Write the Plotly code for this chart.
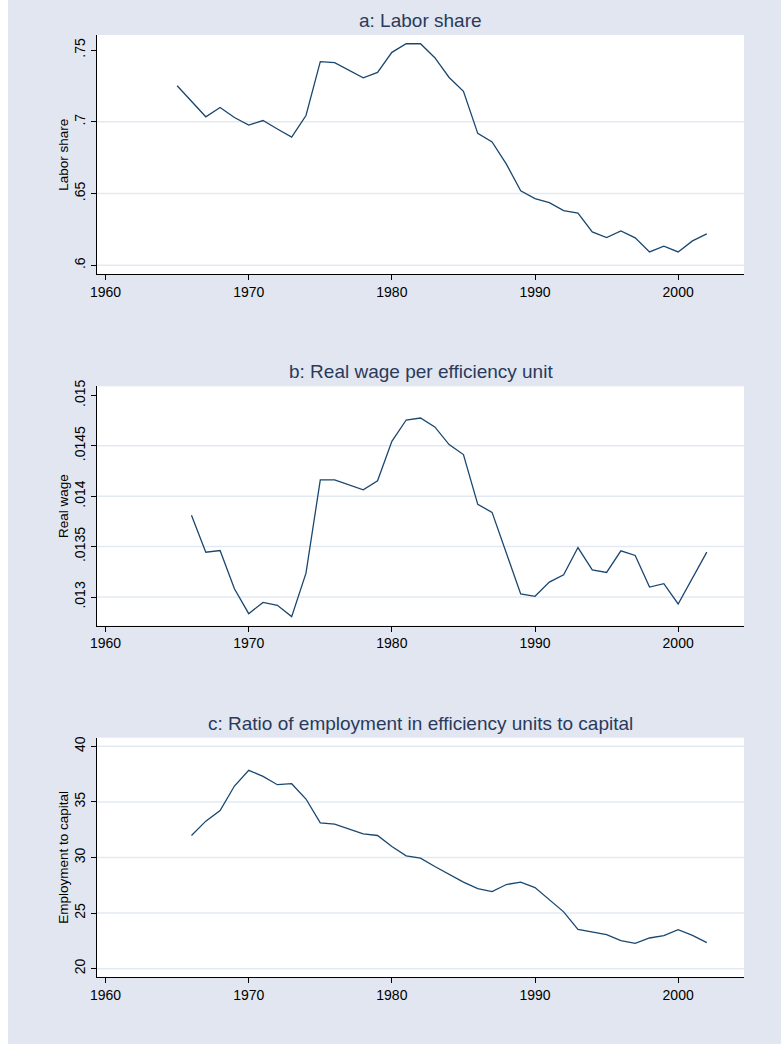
import plotly.graph_objects as go
from plotly.subplots import make_subplots

# ---------------------------------------------------------------
# Data
# ---------------------------------------------------------------
YEARS_A = list(range(1965, 2003))
LABOR_SHARE = [
    0.7251, 0.7140, 0.7035, 0.7100, 0.7030, 0.6977, 0.7009, 0.6950,
    0.6893, 0.7044, 0.7419, 0.7412, 0.7361, 0.7307, 0.7344, 0.7484,
    0.7544, 0.7544, 0.7447, 0.7309, 0.7212, 0.6919, 0.6860, 0.6705,
    0.6519, 0.6465, 0.6437, 0.6381, 0.6363, 0.6233, 0.6193, 0.6240,
    0.6191, 0.6093, 0.6133, 0.6093, 0.6170, 0.6219,
]

YEARS_B = list(range(1966, 2003))
REAL_WAGE = [
    0.013811, 0.013445, 0.013461, 0.013082, 0.012835, 0.012947, 0.012918,
    0.012806, 0.013237, 0.014163, 0.014163, 0.014114, 0.014064, 0.014153,
    0.014545, 0.014756, 0.014776, 0.014687, 0.014512, 0.014413, 0.013919,
    0.013840, 0.013435, 0.013030, 0.013007, 0.013148, 0.013221, 0.013491,
    0.013270, 0.013244, 0.013458, 0.013412, 0.013099, 0.013132, 0.012931,
    0.013188, 0.013445,
]

YEARS_C = list(range(1966, 2003))
EMP_TO_CAPITAL = [
    31.98, 33.27, 34.23, 36.43, 37.84, 37.30, 36.55, 36.64, 35.26, 33.12,
    33.00, 32.58, 32.13, 31.98, 30.99, 30.15, 29.94, 29.19, 28.50, 27.78,
    27.21, 26.94, 27.57, 27.78, 27.30, 26.19, 25.11, 23.54, 23.27, 23.06,
    22.52, 22.28, 22.76, 22.97, 23.51, 23.00, 22.34,
]

TITLES = [
    "a: Labor share",
    "b: Real wage per efficiency unit",
    "c: Ratio of employment in efficiency units to capital",
]
Y_TITLES = ["Labor share", "Real wage", "Employment to capital"]

X_TICKS = [1960, 1970, 1980, 1990, 2000]

TICKS_A = [0.6, 0.65, 0.7, 0.75]
TICKTEXT_A = [".6", ".65", ".7", ".75"]
GRID_A = [0.6, 0.65, 0.7]

TICKS_B = [0.013, 0.0135, 0.014, 0.0145, 0.015]
TICKTEXT_B = [".013", ".0135", ".014", ".0145", ".015"]
GRID_B = [0.013, 0.0135, 0.014, 0.0145]

TICKS_C = [20, 25, 30, 35, 40]
TICKTEXT_C = ["20", "25", "30", "35", "40"]
GRID_C = [20, 25, 30, 35, 40]

# ---------------------------------------------------------------
# Style
# ---------------------------------------------------------------
BG = "#E1E6F0"
LINE = "#1a476f"
GRID = "#E3E9F2"
TITLE_COLOR = "#2a3a5c"
FONT = "Liberation Sans, Arial, sans-serif"

# page keeps its 8px left body margin; figure fills the rest
W, H = 773, 1044
ML, MR, MT, MB = 89, 37, 35, 67
PH = H - MT - MB

fig = make_subplots(rows=3, cols=1, subplot_titles=TITLES,
                    vertical_spacing=112 / PH)

panels = [
    (YEARS_A, LABOR_SHARE, [0.5937, 0.7605], TICKS_A, TICKTEXT_A, GRID_A),
    (YEARS_B, REAL_WAGE, [0.012716, 0.01509], TICKS_B, TICKTEXT_B, GRID_B),
    (YEARS_C, EMP_TO_CAPITAL, [19.25, 40.78], TICKS_C, TICKTEXT_C, GRID_C),
]

for i, (xs, ys, yr, tv, tt, grid) in enumerate(panels, start=1):
    fig.add_trace(go.Scatter(
        x=xs, y=ys, mode="lines",
        line=dict(color=LINE, width=1.3),
        showlegend=False,
    ), row=i, col=1)

    for g in grid:
        fig.add_hline(y=g, line_color=GRID, line_width=1.5,
                      layer="below", row=i, col=1)

    fig.update_xaxes(
        range=[1959.4, 2004.6], tickvals=X_TICKS,
        ticks="outside", ticklen=5, tickcolor="black",
        showline=True, linecolor="black", linewidth=1,
        showgrid=False, zeroline=False, automargin=False,
        tickfont=dict(size=14, color="black", family=FONT),
        row=i, col=1,
    )
    fig.update_yaxes(
        range=yr, tickvals=tv, ticktext=tt, tickangle=-90,
        ticks="outside", ticklen=5, tickcolor="black",
        showline=True, linecolor="black", linewidth=1,
        showgrid=False, zeroline=False, automargin=False,
        tickfont=dict(size=14, color="black", family=FONT),
        title=dict(text=Y_TITLES[i - 1], standoff=0,
                   font=dict(size=13.5, color="black", family=FONT)),
        row=i, col=1,
    )

for ann in fig.layout.annotations:
    ann.font = dict(size=19, color=TITLE_COLOR, family=FONT)
    ann.yshift = 2

fig.update_layout(
    width=W, height=H,
    margin=dict(l=ML, r=MR, t=MT, b=MB),
    paper_bgcolor=BG,
    plot_bgcolor="white",
    font=dict(family=FONT, color="black"),
)

fig.write_html("out.html",
               post_script="document.body.style.margin='0 0 0 8px';")
